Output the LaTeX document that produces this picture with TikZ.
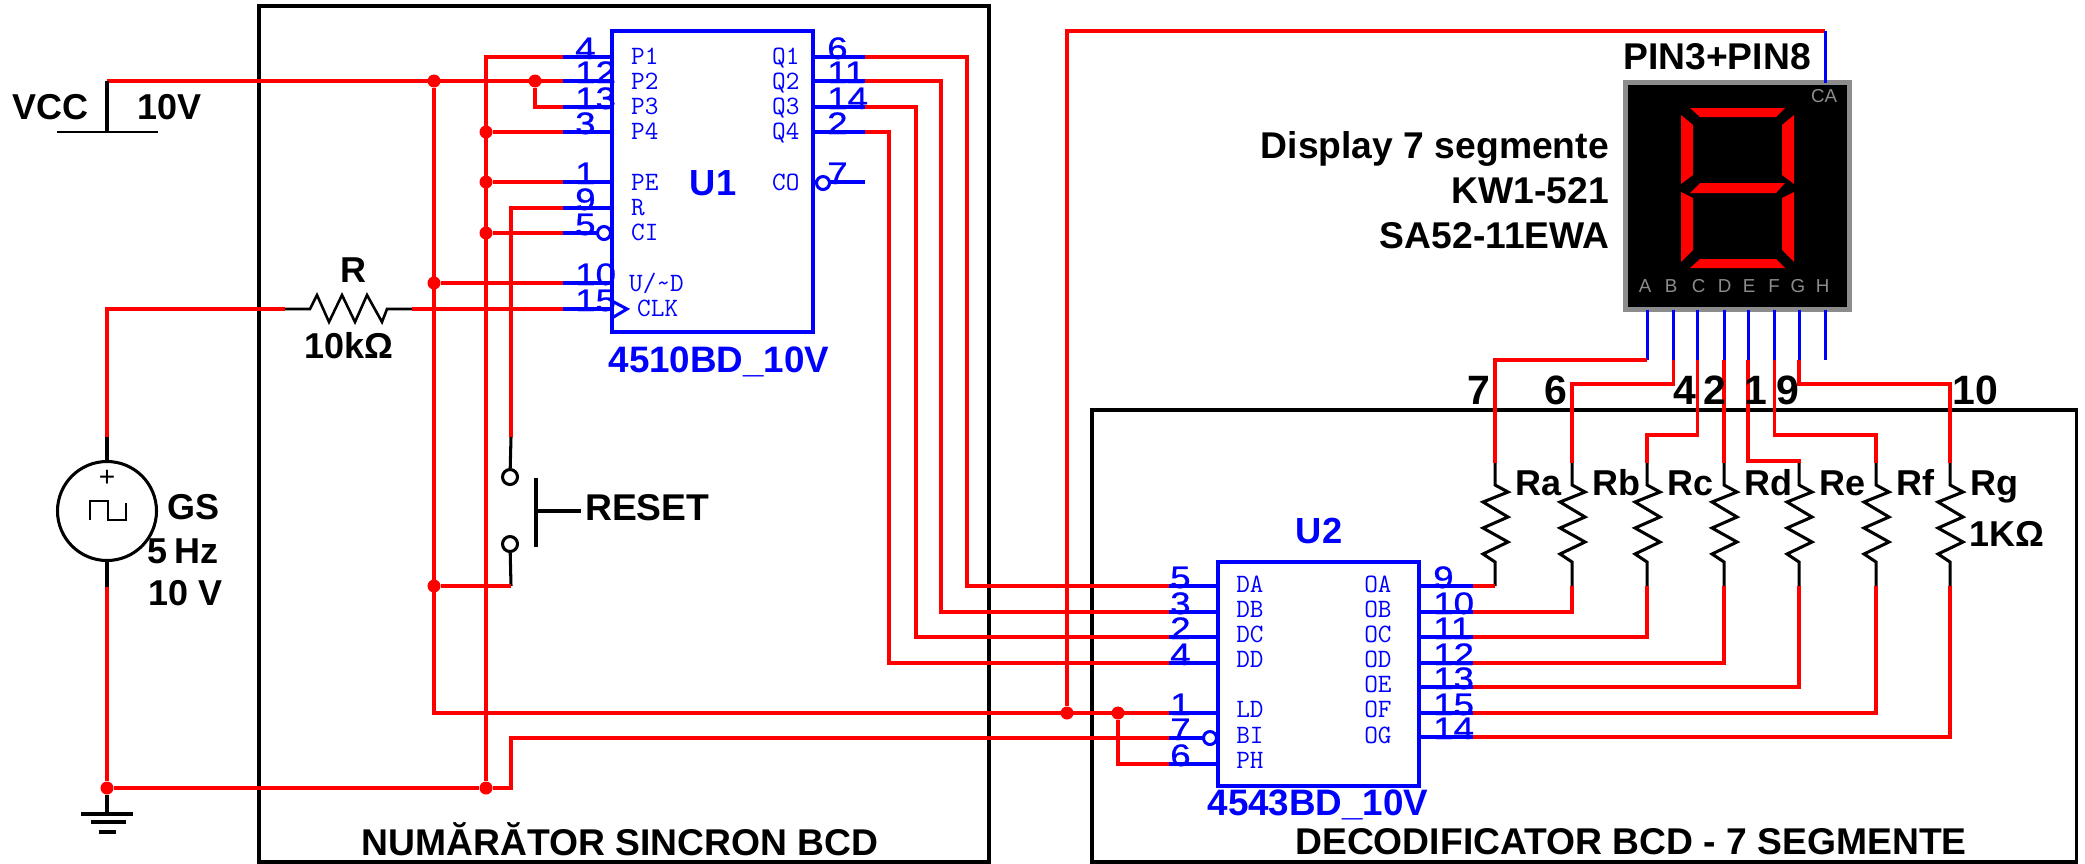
\documentclass[tikz,border=0pt]{standalone}
\usepackage{fontspec}
\setmainfont{Liberation Sans}
\newfontfamily\pinfont[FakeStretch=1.18,FakeBold=0.8]{Liberation Sans}

\begin{document}
\begin{tikzpicture}[x=0.03cm,y=-0.03cm]

% Define styles
\def\unitpx{0.03cm}
\tikzstyle{wire}=[draw=red, line width=3pt]
\tikzstyle{lead}=[draw=black, line width=2.6pt]
\tikzstyle{pinline}=[draw=blue, line width=2.6pt]
\tikzstyle{blockbox}=[draw=black, line width=2.6pt, inner sep=0pt, outer sep=0pt]
\tikzstyle{chip}=[draw=blue, line width=3pt, inner sep=0pt, outer sep=0pt]
\tikzstyle{junction}=[circle, fill=red, inner sep=0pt, minimum size=13*\unitpx]
\tikzstyle{bubble}=[circle, draw=blue, fill=white, line width=2.6pt, inner sep=0pt, minimum size=13*\unitpx]
\tikzstyle{contact}=[circle, draw=black, fill=white, line width=2.6pt, inner sep=0pt, minimum size=15*\unitpx]
\tikzstyle{segment}=[fill=red]
\tikzstyle{pinnum}=[text=blue, anchor=base west, inner sep=0pt, font=\fontsize{26.5}{30}\selectfont\pinfont]
\tikzstyle{pintext}=[text=blue, anchor=base west, inner sep=0pt, font=\fontsize{22.6}{26}\selectfont\ttfamily\addfontfeature{FakeBold=0.5}]
\tikzstyle{chipname}=[text=blue, anchor=base, inner sep=0pt, font=\fontsize{31}{34}\selectfont\bfseries]
\tikzstyle{titletext}=[text=black, inner sep=0pt, font=\fontsize{30.7}{34}\selectfont\bfseries]
\tikzstyle{widetext}=[text=black, inner sep=0pt, font=\fontsize{31.8}{34}\selectfont\bfseries]
\tikzstyle{bignum}=[text=black, anchor=base, inner sep=0pt, font=\fontsize{35}{38}\selectfont\bfseries]
\tikzstyle{displaytext}=[text=black!45, inner sep=0pt, font=\fontsize{16}{18}\selectfont]

\useasboundingbox (0,0) rectangle (2085,863);

% Blocks
\node[blockbox, minimum width=730*\unitpx, minimum height=856*\unitpx] (numarator) at (624,434) {};
\node[blockbox, minimum width=984*\unitpx, minimum height=452*\unitpx] (decoder) at (1584,636) {};
\node[chip, minimum width=201*\unitpx, minimum height=301*\unitpx] (uone) at (712.5,181.5) {};
\node[chip, minimum width=201*\unitpx, minimum height=224*\unitpx] (utwo) at (1318.5,674) {};
\node[draw=black!45, line width=4.3pt, fill=black, inner sep=0pt, outer sep=0pt, minimum width=224*\unitpx, minimum height=227*\unitpx] (disp) at (1737,196) {};

% Pin coordinates of the chips
\foreach \n/\y in {4/57,12/81,13/107,3/132,1/182,9/208,5/233,10/283,15/309} {
  \coordinate (A\n) at (563,\y);
  \draw[pinline] (A\n) -- (A\n -| uone.west);
  \node[pinnum] (numA\n) at (575,\y+2) {\n};
}
\foreach \n/\y in {6/57,11/81,14/107,2/132,7/182} {
  \coordinate (A\n) at (865,\y);
  \draw[pinline] (A\n) -- (A\n -| uone.east);
  \node[pinnum] (numA\n) at (827,\y+2) {\n};
}
\foreach \n/\y in {5/586,3/612,2/637,4/663,1/713,7/738,6/764} {
  \coordinate (B\n) at (1169,\y);
  \draw[pinline] (B\n) -- (B\n -| utwo.west);
  \node[pinnum] (numB\n) at (1170,\y+2) {\n};
}
\foreach \n/\y in {9/586,10/612,11/637,12/663,13/687,15/713,14/737} {
  \coordinate (B\n) at (1473,\y);
  \draw[pinline] (B\n) -- (B\n -| utwo.east);
  \node[pinnum] (numB\n) at (1433,\y+2) {\n};
}

% Pin names
\foreach \t/\x/\y in {P1/631/64,P2/631/89,P3/631/114,P4/631/139,PE/631/190,R/631/215,CI/631/240,CLK/637/316,
  Q1/772/64,Q2/772/89,Q3/772/114,Q4/772/139,CO/772/190} {
  \node[pintext] (txtA\t) at (\x,\y) {\t};
}
\node[pintext] (txtAUD) at (629,291) {U/\textasciitilde D};
\foreach \t/\x/\y in {DA/1236/592,DB/1236/617,DC/1236/642,DD/1236/667,LD/1236/717,BI/1236/743,PH/1236/768,
  OA/1364/592,OB/1364/617,OC/1364/642,OD/1364/667,OE/1364/692,OF/1364/717,OG/1364/743} {
  \node[pintext] (txtB\t) at (\x,\y) {\t};
}

% Bubbles and clock mark
\node[bubble] (bubbleci) at (604,233) {};
\node[bubble] (bubbleco) at (823,183) {};
\node[bubble] (bubblebi) at (1210,738) {};
\draw[pinline] (612,301) -- (627,309) -- (612,318);

% Chip names
\node[chipname] (nameuone) at (713,195) {U1};
\node[chipname] (nameutwo) at (1319,543) {U2};
\node[chipname, font=\fontsize{31.4}{34}\selectfont\bfseries] (typeuone) at (719,372) {4510BD\_10V};
\node[chipname, font=\fontsize{31.4}{34}\selectfont\bfseries] (typeutwo) at (1318,815) {4543BD\_10V};

% Supply and junctions
\coordinate (vcc) at (107,81);
\node[junction] (ja) at (434,81) {};
\node[junction] (jb) at (535,81) {};
\node[junction] (jc) at (486,132) {};
\node[junction] (jd) at (486,182) {};
\node[junction] (je) at (486,233) {};
\node[junction] (jf) at (434,283) {};
\node[junction] (jg) at (486,788) {};
\node[junction] (jh) at (434,586) {};
\node[junction] (jgnd) at (107,788) {};
\node[junction] (jvd) at (1067,713) {};
\node[junction] (jph) at (1118,713) {};

\draw[wire] (vcc) -- (A12);
\draw[wire] (ja) |- (B1);
\draw[wire] (jb) |- (A13);
\draw[wire] (jg) |- (A4);
\draw[wire] (jc) -- (A3);
\draw[wire] (jd) -- (A1);
\draw[wire] (je) -- (A5);
\draw[wire] (jf) -- (A10);
\draw[wire] (jgnd) -- (jg) -- (511,788) |- (B7);
\draw[wire] (jph) |- (B6);

% VCC symbol
\draw[lead] (vcc) -- (107,132);
\draw[black, line width=1.6pt] (57,132) -- (158,132);
\node[titletext, anchor=base west] (vcctext) at (12,119) {VCC};
\node[titletext, anchor=base west] (vccvalue) at (137,119) {10V};

% Clock source
\node[circle, draw=black, line width=2.6pt, inner sep=0pt, outer sep=0pt, minimum size=99*\unitpx] (gs) at (107,511) {};
\coordinate (gsa) at (107,437);
\coordinate (gsb) at (107,587);
\draw[lead] (gsa) -- (gs.north);
\draw[lead] (gs.south) -- (gsb);
\draw[wire] (gsb) -- (jgnd);
\node[inner sep=0pt, font=\fontsize{24}{26}\selectfont] (gsplus) at (107,478) {+};
\draw[black, line width=2pt] (90,520) -- (90,501) -- (108,501) -- (108,520) -- (126,520) -- (126,503);
\node[titletext, anchor=base west] (gstext) at (167,519) {GS};
\node[titletext, anchor=base west] (gsfreq) at (147,563) {5\hspace{0.2em}Hz};
\node[titletext, anchor=base west] (gsvolt) at (148,605) {10 V};

% Ground
\coordinate (gndtop) at (107,814);
\draw[lead] (jgnd) -- (gndtop);
\draw[lead] (81,814) -- (133,814);
\draw[lead] (91,822) -- (126,822);
\draw[lead] (99,832) -- (116,832);

% Resistor R
\coordinate (ra) at (285,309);
\coordinate (rb) at (412,309);
\draw[wire] (gsa) |- (ra);
\draw[wire] (rb) -- (A15);
\draw[black, line width=2.2pt] (ra) -- (310,309) -- (317,295) -- (329,322) -- (342,295) -- (355,322) -- (367,295) -- (382,322) -- (387,309) -- (rb);
\node[titletext, anchor=base] (rname) at (353,282) {R};
\node[titletext, anchor=base] (rvalue) at (349,358) {10kΩ};

% Reset button
\node[contact] (conta) at (510,477) {};
\node[contact] (contb) at (510,544) {};
\coordinate (swa) at (511,437);
\coordinate (swb) at (511,586);
\draw[lead] (swa) -- (conta);
\draw[lead] (contb) -- (swb);
\draw[wire] (swa) |- (A9);
\draw[wire] (jh) -- (swb);
\draw[lead] (536,478) -- (536,547);
\draw[lead] (536,511) -- (581,511);
\node[widetext, anchor=base west] (resettext) at (585,520) {RESET};

% Counter to decoder
\foreach \a/\b/\x in {6/5/967,11/3/941,14/2/916,2/4/889} {
  \draw[wire] (A\a) -| (\x,400) |- (B\b);
}

% Display
\coordinate (ca) at (1825,31);
\draw[wire] (jvd) |- (ca);
\draw[pinline] (ca) -- (ca |- disp.north);
\foreach \s/\x/\lx in {A/1647/1645,B/1673.5/1671,C/1697.5/1698.5,D/1724/1724.5,E/1748/1749,F/1774.5/1774,G/1799/1798,H/1825/1822.5} {
  \coordinate (pin\s) at (\x,360);
  \draw[pinline] (pin\s) -- (pin\s |- disp.south);
  \node[displaytext] (txt\s) at (\lx,286) {\s};
}
\node[displaytext] (txtca) at (1824,96) {CA};
\fill[segment] (1690,108) -- (1785,108) -- (1776,117) -- (1700,117) -- cycle;
\fill[segment] (1681,115) -- (1693,125) -- (1693,175) -- (1681,184) -- cycle;
\fill[segment] (1794,115) -- (1782,125) -- (1782,175) -- (1794,184) -- cycle;
\fill[segment] (1700,183) -- (1785,183) -- (1776,193) -- (1690,193) -- cycle;
\fill[segment] (1681,192) -- (1693,198) -- (1693,250) -- (1681,262) -- cycle;
\fill[segment] (1794,192) -- (1782,198) -- (1782,250) -- (1794,262) -- cycle;
\fill[segment] (1700,259) -- (1776,259) -- (1785,268) -- (1690,268) -- cycle;
\node[widetext, anchor=base east] (pintext) at (1811,69) {PIN3+PIN8};
\node[widetext, anchor=base east] (disptexta) at (1609,158) {Display 7 segmente};
\node[widetext, anchor=base east] (disptextb) at (1609,203) {KW1-521};
\node[widetext, anchor=base east] (disptextc) at (1610,248) {SA52-11EWA};

% Resistors of the segments
\foreach \t/\x/\lbl in {a/1495/Ra,b/1572/Rb,c/1647/Rc,d/1724/Rd,e/1799/Re,f/1876/Rf,g/1950/Rg} {
  \coordinate (top\t) at (\x,463);
  \coordinate (bot\t) at (\x,586);
  \draw[lead] (top\t) -- (\x,485) -- ++(13,7) -- ++(-25,10) -- ++(25,15) -- ++(-25,11) -- ++(25,14) -- ++(-25,12) -- ++(12,8) -- (bot\t);
  \node[titletext, anchor=base west] (lbl\t) at (\x+20,495) {\lbl};
}
\node[titletext, anchor=base west] (rgvalue) at (1969,546) {1KΩ};

% Segment wires
\draw[wire] (pinA) -| (topa);
\foreach \s/\x/\y/\t in {B/1673.5/384/b,C/1697.5/435/c,E/1748/461/e,F/1774.5/435/f,G/1799/384/g} {
  \draw[wire] (pin\s) -- (\x,\y) -| (top\t);
}
\draw[wire] (pinD) -- (topd);
\foreach \n/\t in {9/a,10/b,11/c,12/d,13/e,15/f,14/g} {
  \draw[wire] (B\n) -| (bot\t);
}

% Pin numbers of the display
\foreach \lbl/\x in {7/1479,6/1556,4/1685,2/1715,1/1756,9/1788,10/1975} {
  \node[bignum] (big\lbl) at (\x,404) {\lbl};
}

% Block titles
\node[widetext, anchor=base] (titleleft) at (620,855) {NUMĂRĂTOR SINCRON BCD};
\node[widetext, anchor=base] (titleright) at (1631,854) {DECODIFICATOR BCD - 7 SEGMENTE};

\end{tikzpicture}
\end{document}
